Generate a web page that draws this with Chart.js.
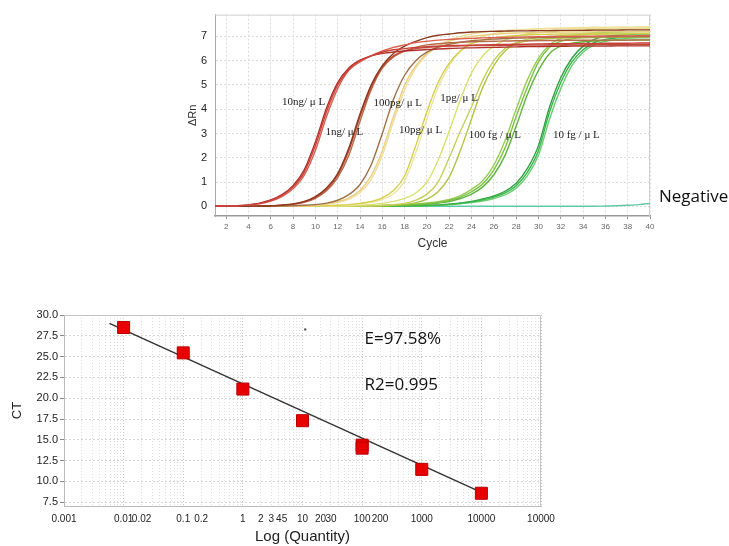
<!DOCTYPE html>
<html lang="en">
<head>
    <meta charset="UTF-8">
    <title>Amplification and standard curve</title>
    <script src="https://cdn.jsdelivr.net/npm/chart.js"></script>
    <style>
        body {
            margin: 0;
            background: #fff;
            width: 729px;
            height: 546px;
            position: relative;
            overflow: hidden;
        }
        canvas {
            position: absolute;
            left: 0;
        }
        #ampChart { top: 0; }
        #stdChart { top: 295px; }
    </style>
</head>
<body>
    <canvas id="ampChart" width="729" height="260"></canvas>
    <canvas id="stdChart" width="729" height="251"></canvas>

    <script>
        // ---- amplification plot (top) ----
        const cycles = [1,2,3,4,5,6,7,8,9,10,11,12,13,14,15,16,17,18,19,20,21,22,23,24,25,26,27,28,29,30,31,32,33,34,35,36,37,38,39,40];
        const cycleTicks = [2,4,6,8,10,12,14,16,18,20,22,24,26,28,30,32,34,36,38,40];
        const rnTicks = [0,1,2,3,4,5,6,7];

        // 10ng/uL
        const ng10a = [0,0,0.02,0.06,0.12,0.24,0.45,0.8,1.4,2.5,3.9,5.0,5.65,6.0,6.2,6.35,6.45,6.5,6.55,6.58,6.6,6.62,6.63,6.64,6.65,6.66,6.67,6.68,6.68,6.69,6.7,6.7,6.7,6.71,6.71,6.72,6.72,6.72,6.73,6.73];
        const ng10b = [0,0,0.02,0.05,0.1,0.21,0.4,0.72,1.28,2.3,3.7,4.85,5.6,5.95,6.2,6.4,6.55,6.65,6.75,6.8,6.85,6.88,6.9,6.92,6.94,6.95,6.96,6.97,6.98,6.99,7.0,7.0,7.0,7.01,7.01,7.02,7.02,7.02,7.03,7.03];
        const ng10c = [0,0,0.02,0.06,0.13,0.26,0.48,0.85,1.5,2.65,4.05,5.1,5.7,6.02,6.2,6.3,6.36,6.4,6.43,6.46,6.48,6.5,6.52,6.53,6.54,6.55,6.56,6.57,6.58,6.58,6.59,6.59,6.6,6.6,6.6,6.6,6.61,6.61,6.61,6.61];
        // 1ng/uL
        const ng1a = [0,0,0,0,0.01,0.02,0.05,0.1,0.2,0.4,0.75,1.35,2.4,3.8,5.0,5.8,6.3,6.6,6.8,6.95,7.05,7.1,7.15,7.18,7.2,7.21,7.22,7.23,7.23,7.24,7.24,7.25,7.25,7.25,7.26,7.26,7.26,7.27,7.27,7.27];
        const ng1b = [0,0,0,0,0.01,0.02,0.05,0.09,0.18,0.37,0.7,1.28,2.3,3.7,4.9,5.75,6.2,6.4,6.5,6.55,6.58,6.6,6.61,6.62,6.62,6.63,6.63,6.64,6.64,6.64,6.65,6.65,6.65,6.65,6.66,6.66,6.66,6.66,6.67,6.67];
        const ng1c = [0,0,0,0,0.01,0.02,0.04,0.08,0.16,0.33,0.64,1.18,2.1,3.5,4.8,5.7,6.15,6.4,6.55,6.65,6.7,6.74,6.76,6.78,6.79,6.8,6.81,6.82,6.82,6.83,6.83,6.84,6.84,6.84,6.85,6.85,6.85,6.85,6.86,6.86];
        // 100pg/uL
        const pg100a = [0,0,0,0,0,0,0.01,0.02,0.04,0.07,0.13,0.25,0.48,0.9,1.7,3.0,4.4,5.4,6.0,6.35,6.55,6.68,6.76,6.82,6.86,6.89,6.91,6.93,6.94,6.95,6.96,6.97,6.97,6.98,6.98,6.99,6.99,7.0,7.0,7.0];
        const pg100b = [0,0,0,0,0,0,0.01,0.02,0.03,0.05,0.1,0.19,0.35,0.65,1.25,2.3,3.7,5.0,5.8,6.3,6.6,6.8,6.92,7.0,7.05,7.09,7.12,7.14,7.15,7.16,7.17,7.18,7.18,7.19,7.19,7.2,7.2,7.2,7.21,7.21];
        const pg100c = [0,0,0,0,0,0,0,0.01,0.02,0.04,0.08,0.16,0.3,0.56,1.1,2.1,3.5,4.8,5.7,6.25,6.6,6.85,7.0,7.1,7.17,7.22,7.25,7.27,7.29,7.3,7.31,7.32,7.32,7.33,7.33,7.34,7.34,7.35,7.35,7.35];
        // 10pg/uL
        const pg10a = [0,0,0,0,0,0,0,0,0,0.01,0.02,0.04,0.07,0.12,0.2,0.35,0.65,1.25,2.5,3.9,5.1,5.9,6.4,6.7,6.85,6.94,7.0,7.04,7.06,7.08,7.09,7.1,7.1,7.11,7.11,7.12,7.12,7.12,7.13,7.13];
        const pg10b = [0,0,0,0,0,0,0,0,0,0,0.01,0.03,0.05,0.09,0.16,0.28,0.52,1.05,2.2,3.6,4.9,5.8,6.4,6.8,7.0,7.12,7.2,7.25,7.29,7.32,7.34,7.35,7.36,7.37,7.38,7.38,7.39,7.39,7.4,7.4];
        const pg10c = [0,0,0,0,0,0,0,0,0,0,0,0.01,0.02,0.04,0.07,0.12,0.2,0.33,0.55,1.0,1.9,3.1,4.4,5.5,6.2,6.6,6.85,7.0,7.1,7.16,7.2,7.23,7.25,7.27,7.28,7.29,7.3,7.3,7.31,7.31];
        // 1pg/uL
        const pg1a = [0,0,0,0,0,0,0,0,0,0,0,0,0,0.01,0.02,0.04,0.07,0.12,0.25,0.5,1.0,2.0,3.1,4.1,5.2,6.0,6.5,6.75,6.88,6.95,7.0,7.03,7.05,7.07,7.08,7.09,7.1,7.1,7.11,7.11];
        const pg1b = [0,0,0,0,0,0,0,0,0,0,0,0,0,0,0.01,0.02,0.04,0.08,0.15,0.3,0.6,1.2,2.3,3.6,4.9,5.8,6.4,6.7,6.82,6.88,6.91,6.93,6.94,6.95,6.95,6.96,6.96,6.97,6.97,6.97];
        // 100fg/uL
        const fg100a = [0,0,0,0,0,0,0,0,0,0,0,0,0,0,0.01,0.02,0.04,0.06,0.08,0.11,0.15,0.24,0.38,0.6,0.93,1.5,2.4,3.7,4.9,5.95,6.55,6.8,6.9,6.95,6.97,6.98,6.99,7.0,7.0,7.0];
        const fg100b = [0,0,0,0,0,0,0,0,0,0,0,0,0,0,0,0.01,0.02,0.04,0.06,0.09,0.13,0.2,0.32,0.5,0.8,1.3,2.1,3.3,4.6,5.6,6.3,6.6,6.72,6.78,6.81,6.83,6.84,6.85,6.85,6.85];
        const fg100c = [0,0,0,0,0,0,0,0,0,0,0,0,0,0,0.01,0.03,0.05,0.07,0.1,0.14,0.19,0.28,0.44,0.7,1.05,1.7,2.7,4.0,5.2,6.1,6.65,6.92,7.05,7.12,7.15,7.17,7.18,7.19,7.2,7.2];
        // 10fg/uL
        const fg10a = [0,0,0,0,0,0,0,0,0,0,0,0,0,0,0,0,0,0.01,0.02,0.03,0.05,0.08,0.12,0.18,0.27,0.38,0.55,0.85,1.4,2.3,3.9,5.1,5.95,6.45,6.75,6.88,6.94,6.97,6.99,7.0];
        const fg10b = [0,0,0,0,0,0,0,0,0,0,0,0,0,0,0,0,0,0,0.01,0.02,0.04,0.06,0.1,0.15,0.22,0.32,0.47,0.75,1.25,2.1,3.6,4.85,5.8,6.35,6.65,6.8,6.88,6.92,6.94,6.95];
        const fg10c = [0,0,0,0,0,0,0,0,0,0,0,0,0,0,0,0,0,0.01,0.03,0.04,0.06,0.09,0.14,0.2,0.3,0.43,0.62,0.95,1.55,2.5,4.1,5.3,6.1,6.6,6.88,7.0,7.05,7.08,7.1,7.1];
        // negative control
        const negative = [0,0,0,0,0,0,0,0,0,0,0,0,0,0,0,0,0,0,0,0,0,0,0,0,0,0,0,0,0,0,0,0,0,0,0,0.01,0.02,0.04,0.07,0.12];

        // first entry ends up on top
        const curves = [ng10a, ng10b, ng10c, ng1a, ng1b, ng1c, pg100a, pg100b, pg100c, pg10a, pg10b, pg10c, pg1a, pg1b, fg100a, fg100b, fg100c, fg10a, fg10b, fg10c, negative];
        const curveColors = ['#c8403a', '#d86050', '#b03028', '#8a3a20', '#c04a38', '#b86a48',
            '#a07048', '#e8cf80', '#f0dc9c', '#d6cc50', '#ece6a0', '#d8e070', '#c4d058', '#b0c448',
            '#7cc040', '#5cb43c', '#98cc58', '#3cb44c', '#68d070', '#30a040', '#60c8a8'];

        const doseLabels = ['10ng/ \u03bc L', '1ng/ \u03bc L', '100pg/ \u03bc L', '10pg/ \u03bc L', '1pg/ \u03bc L', '100 fg / \u03bc L', '10 fg / \u03bc L', 'Negative'];

        // ---- standard curve (bottom) ----
        const quantity = [0.01, 0.1, 1, 10, 100, 100, 1000, 10000];
        const ctValues = [28.5, 25.45, 21.1, 17.3, 14.36, 14.0, 11.45, 8.58];
        const fitQuantity = [0.0058, 8300];
        const fitCt = [29.0, 8.95];
        const qtyTicks = [0.001, 0.01, 0.02, 0.1, 0.2, 1, 2, 3, 4, 5, 10, 20, 30, 100, 200, 1000, 10000, 100000];
        const qtyTickText = ['0.001', '0.01', '0.02', '0.1', '0.2', '1', '2', '3', '4', '5', '10', '20', '30', '100', '200', '1000', '10000', '10000'];
        const ctTicks = [7.5, 10, 12.5, 15, 17.5, 20, 22.5, 25, 27.5, 30];

        const SANS = 'Arial, "Liberation Sans", sans-serif';

        // text drawn at data coordinates
        const notesPlugin = {
            id: 'notes',
            afterDatasetsDraw(chart, args, opts) {
                const ctx = chart.ctx;
                const xs = chart.scales.x, ys = chart.scales.y;
                ctx.save();
                ctx.textAlign = 'left';
                ctx.textBaseline = 'middle';
                (opts.items || []).forEach(it => {
                    ctx.font = it.font;
                    ctx.fillStyle = it.color;
                    ctx.fillText(it.text, xs.getPixelForValue(it.x), ys.getPixelForValue(it.y));
                });
                ctx.restore();
            }
        };

        // light frame round the plot area
        const framePlugin = {
            id: 'frame',
            beforeDatasetsDraw(chart, args, opts) {
                const a = chart.chartArea;
                const ctx = chart.ctx;
                ctx.save();
                ctx.strokeStyle = opts.color || '#ccc';
                ctx.lineWidth = 1;
                ctx.beginPath();
                ctx.moveTo(a.left, a.top + 0.5);
                ctx.lineTo(a.right - 0.5, a.top + 0.5);
                ctx.lineTo(a.right - 0.5, a.bottom);
                ctx.stroke();
                ctx.restore();
            }
        };

        function renderAmpChart() {
            const serif = '11px "Liberation Serif", "Times New Roman", serif';
            const labelPos = [[7.0, 4.3], [10.9, 3.06], [15.2, 4.24], [17.5, 3.12], [21.2, 4.47], [23.75, 2.93], [31.3, 2.93], [40.8, 0.38]];
            const items = doseLabels.map((t, i) => ({
                text: t, x: labelPos[i][0], y: labelPos[i][1],
                font: i === 7 ? '17px "Open Sans", sans-serif' : serif,
                color: i === 7 ? '#111' : '#222'
            }));

            new Chart(document.getElementById('ampChart'), {
                type: 'scatter',
                data: {
                    datasets: curves.map((vals, i) => ({
                        data: cycles.map((c, j) => ({ x: c, y: vals[j] })),
                        showLine: true,
                        borderColor: curveColors[i],
                        borderWidth: 1.4,
                        pointRadius: 0,
                        cubicInterpolationMode: 'monotone'
                    }))
                },
                options: {
                    responsive: false,
                    animation: false,
                    devicePixelRatio: 1,
                    layout: { padding: { left: 182, right: 79, top: 12, bottom: 4 } },
                    plugins: {
                        legend: { display: false },
                        tooltip: { enabled: false },
                        notes: { items: items },
                        frame: { color: '#cfcfcf' }
                    },
                    scales: {
                        x: {
                            type: 'linear',
                            min: 1,
                            max: 40,
                            afterBuildTicks: s => { s.ticks = cycleTicks.map(v => ({ value: v })); },
                            afterFit: s => { s.height = 40; },
                            ticks: { color: '#666', font: { family: SANS, size: 8 }, padding: 3, maxRotation: 0, autoSkip: false },
                            grid: { color: '#dcdcdc', tickLength: 3, tickColor: '#999' },
                            border: { color: '#999', width: 1.5, dash: [2, 2] },
                            title: { display: true, text: 'Cycle', color: '#333', font: { family: SANS, size: 12 }, padding: { top: 0, bottom: 5 } }
                        },
                        y: {
                            min: -0.4,
                            max: 7.9,
                            afterBuildTicks: s => { s.ticks = rnTicks.map(v => ({ value: v })); },
                            afterFit: s => { s.width = 33; },
                            ticks: { color: '#222', font: { family: SANS, size: 11 }, padding: 8 },
                            grid: { color: '#dcdcdc', drawTicks: false },
                            border: { color: '#aaa', width: 1, dash: [2, 2] },
                            title: { display: true, text: '\u0394Rn', color: '#333', font: { family: SANS, size: 11 }, padding: { top: 4, bottom: 0 } }
                        }
                    }
                },
                plugins: [notesPlugin, framePlugin]
            });
        }

        function renderStdChart() {
            // minor grid positions for the log axis
            const gridVals = [];
            for (let k = -3; k <= 4; k++) {
                for (let n = 1; n <= 9; n++) gridVals.push(Number((n * Math.pow(10, k)).toPrecision(6)));
            }
            gridVals.push(100000);
            const labelFor = v => {
                const i = qtyTicks.findIndex(q => Math.abs(q - v) / q < 1e-6);
                return i >= 0 ? qtyTickText[i] : '';
            };
            const isDecade = v => Math.abs(Math.log10(v) - Math.round(Math.log10(v))) < 1e-6;
            const noteFont = '17px "Open Sans", sans-serif';

            new Chart(document.getElementById('stdChart'), {
                type: 'scatter',
                data: {
                    datasets: [
                        {
                            data: quantity.map((q, i) => ({ x: q, y: ctValues[i] })),
                            pointStyle: 'rect',
                            pointRadius: 8.5,
                            backgroundColor: '#e80000',
                            borderColor: '#b80000',
                            borderWidth: 1
                        },
                        {
                            data: fitQuantity.map((q, i) => ({ x: q, y: fitCt[i] })),
                            showLine: true,
                            borderColor: '#333',
                            borderWidth: 1.5,
                            pointRadius: 0
                        },
                        {
                            // stray speck in the plot
                            data: [{ x: 11.1, y: 28.27 }],
                            pointRadius: 1.2,
                            backgroundColor: '#555',
                            borderWidth: 0
                        }
                    ]
                },
                options: {
                    responsive: false,
                    animation: false,
                    devicePixelRatio: 1,
                    layout: { padding: { left: 6, right: 188, top: 20, bottom: 0 } },
                    plugins: {
                        legend: { display: false },
                        tooltip: { enabled: false },
                        notes: {
                            items: [
                                { text: 'E=97.58%', x: 110, y: 27.07, font: noteFont, color: '#111' },
                                { text: 'R2=0.995', x: 110, y: 21.6, font: noteFont, color: '#111' }
                            ]
                        },
                        frame: { color: '#c4c4c4' }
                    },
                    scales: {
                        x: {
                            type: 'logarithmic',
                            min: 0.001,
                            max: 100000,
                            afterBuildTicks: s => { s.ticks = gridVals.map(v => ({ value: v })); },
                            afterFit: s => { s.height = 40; },
                            ticks: {
                                color: '#222',
                                font: { family: SANS, size: 10 },
                                padding: 7,
                                maxRotation: 0,
                                autoSkip: false,
                                callback: v => labelFor(v)
                            },
                            grid: {
                                drawTicks: false,
                                color: c => (c.tick && isDecade(c.tick.value)) ? '#c6c6c6' : '#dedede'
                            },
                            border: { color: '#bbb', dash: [1, 2] },
                            title: { display: true, text: 'Log (Quantity)', color: '#222', font: { family: SANS, size: 15 }, padding: { top: 0, bottom: 0 } }
                        },
                        y: {
                            min: 7.05,
                            max: 30,
                            afterBuildTicks: s => { s.ticks = ctTicks.map(v => ({ value: v })); },
                            afterFit: s => { s.width = 58; },
                            ticks: {
                                color: '#222',
                                font: { family: SANS, size: 11 },
                                padding: 2,
                                callback: v => Number(v).toFixed(1)
                            },
                            grid: { color: '#d6d6d6', tickLength: 4, tickColor: '#888' },
                            border: { color: '#bbb', dash: [2, 2] },
                            title: { display: true, text: 'CT', color: '#222', font: { family: SANS, size: 13 }, padding: { top: 4, bottom: 0 } }
                        }
                    }
                },
                plugins: [notesPlugin, framePlugin]
            });
        }

        renderAmpChart();
        renderStdChart();
    </script>
</body>
</html>
